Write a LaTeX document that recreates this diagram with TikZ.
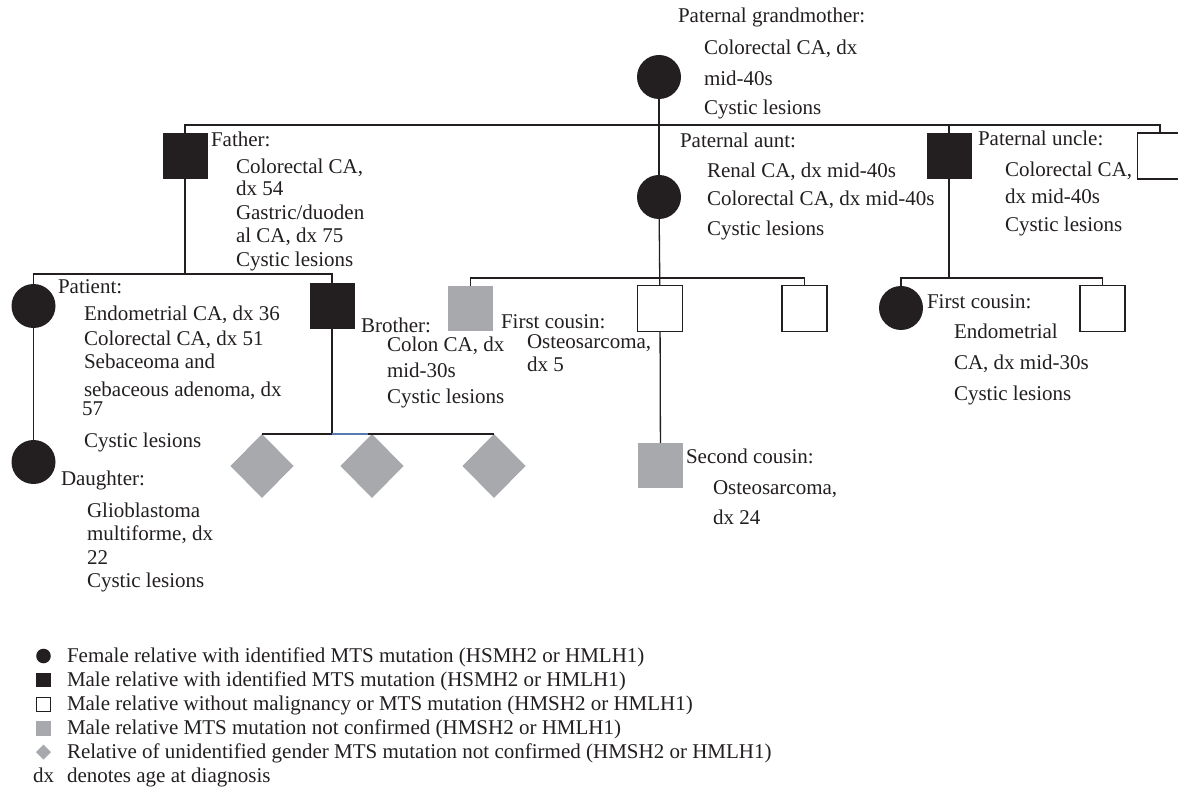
\documentclass[tikz,border=0pt]{standalone}
\usepackage{fontspec}
\setmainfont{Liberation Serif}
\usetikzlibrary{shapes.geometric}
\definecolor{ink}{HTML}{231F20}
\definecolor{grayfill}{HTML}{A7A9AC}
\definecolor{blueseg}{HTML}{5A7BB0}
\begin{document}
\begin{tikzpicture}[x=1pt,y=-1pt,
  every node/.style={inner sep=0pt, outer sep=0pt},
  fem/.style={circle, fill=ink, minimum size=44pt},
  male/.style={rectangle, fill=ink, minimum width=45pt, minimum height=46pt},
  openbox/.style={rectangle, draw=ink, line width=1.3pt, fill=white, minimum width=45pt, minimum height=46pt},
  graybox/.style={rectangle, fill=grayfill, minimum width=45pt, minimum height=45pt},
  unk/.style={diamond, fill=grayfill, minimum width=63pt, minimum height=64pt},
  txt/.style={anchor=base west, font=\fontsize{21}{25}\selectfont, text=ink},
  link/.style={draw=ink, line width=1.3pt},
]
\useasboundingbox[fill=white] (0,0) rectangle (1178,799);

% bar levels
\coordinate (bar1) at (0,125);
\coordinate (barF) at (0,274);
\coordinate (barA) at (0,278);
\coordinate (barU) at (0,278);
\coordinate (barB) at (0,434);

% generation 1
\node[fem] (gm) at (659,77) {};
% generation 2
\node[male] (father) at (185,156) {};
\node[fem] (aunt) at (659,197) {};
\node[male] (uncle) at (949,156) {};
\node[openbox] (rb) at (1160,156) {};
% generation 3
\node[fem] (pat) at (33.5,306) {};
\node[male] (bro) at (332,306) {};
\node[graybox] (ac1) at (470.5,308.5) {};
\node[openbox] (ac2) at (660,308.5) {};
\node[openbox] (ac3) at (804.5,308.5) {};
\node[fem] (uc1) at (901,308) {};
\node[openbox] (uc2) at (1102.5,308.5) {};
% generation 4
\node[fem] (dau) at (33.5,462) {};
\node[unk] (d1) at (262,466) {};
\node[unk] (d2) at (372,466) {};
\node[unk] (d3) at (494,466) {};
\node[graybox] (sc) at (660.5,465.5) {};

% connectors
\draw[link] (gm) -- (aunt);
\draw[link] (father.north) -- (father.north |- bar1) -| (rb.north);
\draw[link] (uncle.north) -- (uncle.north |- bar1);
\draw[link] (father) -- (father.south |- barF);
\draw[link] (pat.north) -- (pat.north |- barF) -| (bro.north);
\draw[link] (pat) -- (dau);
\draw[link] (bro) -- (bro.south |- barB);
\draw[link] (d1.north) -- (d3.north);
\draw[draw=blueseg, line width=1.3pt] (bro.south |- barB) -- (d2.north -| 368,0);
\draw[link] (aunt) -- (ac2);
\draw[link] (ac1.north) -- (ac1.north |- barA) -| (ac3.north);
\draw[link] (ac2) -- (sc);
\draw[link] (uncle) -- (uncle.south |- barU);
\draw[link] (uc1.north) -- (uc1.north |- barU) -| (uc2.north);

% texts: grandmother
\node[txt] (t-gm1) at (678,23) {Paternal grandmother:};
\node[txt] (t-gm2) at (704,55) {Colorectal CA, dx};
\node[txt] (t-gm3) at (704,86) {mid-40s};
\node[txt] (t-gm4) at (704,115) {Cystic lesions};
% aunt
\node[txt] (t-a1) at (680,148) {Paternal aunt:};
\node[txt] (t-a2) at (707,178) {Renal CA, dx mid-40s};
\node[txt] (t-a3) at (707,206) {Colorectal CA, dx mid-40s};
\node[txt] (t-a4) at (707,236) {Cystic lesions};
% uncle
\node[txt] (t-u1) at (978,146) {Paternal uncle:};
\node[txt] (t-u2) at (1005,177) {Colorectal CA,};
\node[txt] (t-u3) at (1005,204) {dx mid-40s};
\node[txt] (t-u4) at (1005,232) {Cystic lesions};
% father
\node[txt] (t-f1) at (211,147) {Father:};
\node[txt] (t-f2) at (236,174) {Colorectal CA,};
\node[txt] (t-f3) at (236,196) {dx 54};
\node[txt] (t-f4) at (236,220) {Gastric/duoden};
\node[txt] (t-f5) at (236,243) {al CA, dx 75};
\node[txt] (t-f6) at (236,267) {Cystic lesions};
% patient
\node[txt] (t-p1) at (58,294) {Patient:};
\node[txt] (t-p2) at (84,321) {Endometrial CA, dx 36};
\node[txt] (t-p3) at (84,346) {Colorectal CA, dx 51};
\node[txt] (t-p4) at (84,369) {Sebaceoma and};
\node[txt] (t-p5) at (84,396) {sebaceous adenoma, dx};
\node[txt] (t-p6) at (82,416) {57};
\node[txt] (t-p7) at (84,447) {Cystic lesions};
% daughter
\node[txt] (t-d1) at (61,485) {Daughter:};
\node[txt] (t-d2) at (87,517) {Glioblastoma};
\node[txt] (t-d3) at (87,540) {multiforme, dx};
\node[txt] (t-d4) at (87,564) {22};
\node[txt] (t-d5) at (87,587) {Cystic lesions};
% brother
\node[txt] (t-b1) at (361,333) {Brother:};
\node[txt] (t-b2) at (387,352) {Colon CA, dx};
\node[txt] (t-b3) at (387,378) {mid-30s};
\node[txt] (t-b4) at (387,403) {Cystic lesions};
% aunt's first cousin
\node[txt] (t-c1) at (501,329) {First cousin:};
\node[txt] (t-c2) at (527,349) {Osteosarcoma,};
\node[txt] (t-c3) at (527,372) {dx 5};
% uncle's first cousin
\node[txt] (t-e1) at (927,309) {First cousin:};
\node[txt] (t-e2) at (954,339) {Endometrial};
\node[txt] (t-e3) at (954,370) {CA, dx mid-30s};
\node[txt] (t-e4) at (954,401) {Cystic lesions};
% second cousin
\node[txt] (t-s1) at (686,463) {Second cousin:};
\node[txt] (t-s2) at (713,494) {Osteosarcoma,};
\node[txt] (t-s3) at (713,524) {dx 24};

% legend
\node[fem, minimum size=14.6pt] (lg1) at (43.5,656) {};
\node[male, minimum width=15pt, minimum height=14pt] (lg2) at (43.5,680) {};
\node[openbox, line width=1pt, minimum width=14pt, minimum height=14pt] (lg3) at (43.5,704) {};
\node[graybox, minimum width=15pt, minimum height=15pt] (lg4) at (43.5,728) {};
\node[unk, minimum width=15pt, minimum height=15pt] (lg5) at (43.5,752) {};
\node[txt] (lt1) at (67,662) {Female relative with identified MTS mutation (HSMH2 or HMLH1)};
\node[txt] (lt2) at (67,686) {Male relative with identified MTS mutation (HSMH2 or HMLH1)};
\node[txt] (lt3) at (67,710) {Male relative without malignancy or MTS mutation (HMSH2 or HMLH1)};
\node[txt] (lt4) at (67,734) {Male relative MTS mutation not confirmed (HMSH2 or HMLH1)};
\node[txt] (lt5) at (67,758) {Relative of unidentified gender MTS mutation not confirmed (HMSH2 or HMLH1)};
\node[txt] (lt6d) at (33,782) {dx};
\node[txt] (lt6) at (67,782) {denotes age at diagnosis};
\end{tikzpicture}
\end{document}
